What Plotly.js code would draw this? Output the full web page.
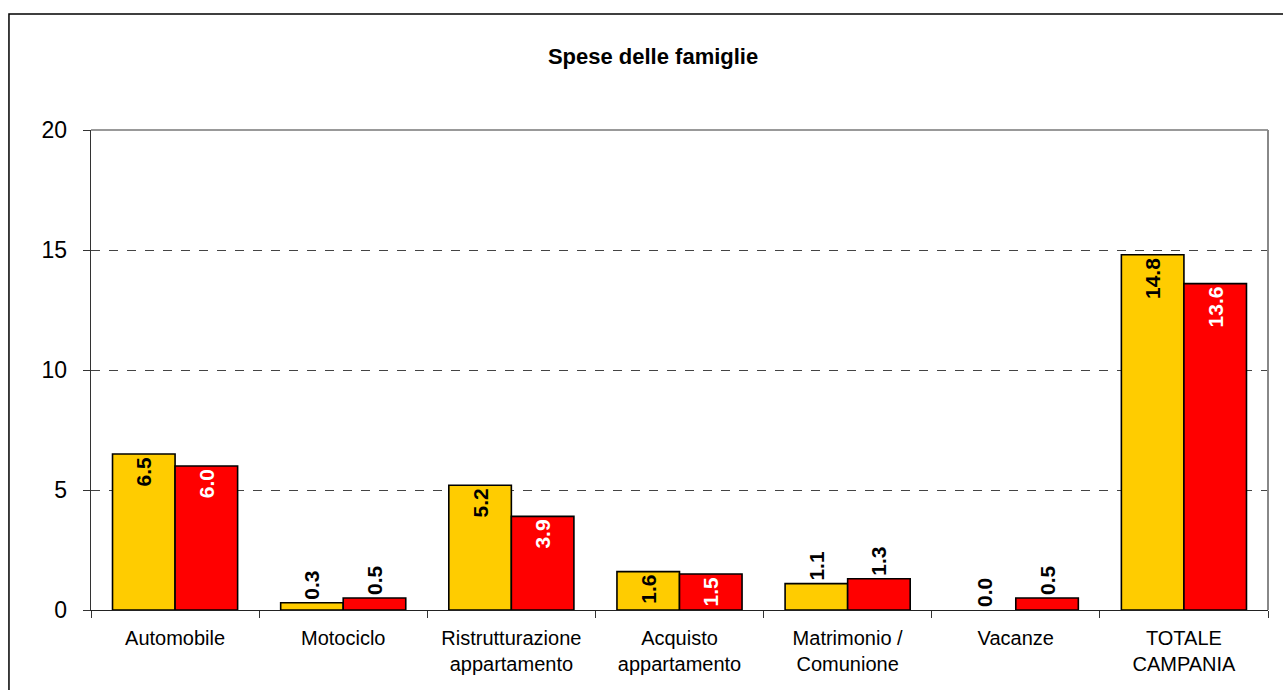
<!DOCTYPE html>
<html>
<head>
<meta charset="utf-8">
<script src="https://cdn.plot.ly/plotly-3.0.1.min.js"></script>
<style>html,body{margin:0;padding:0;background:#fff;}#chart{width:1283px;height:690px;}</style>
</head>
<body>
<div id="chart"></div>
<script>
const categories = ["Automobile", "Motociclo", "Ristrutturazione<br>appartamento", "Acquisto<br>appartamento", "Matrimonio /<br>Comunione", "Vacanze", "TOTALE<br>CAMPANIA"];
const seriesYellow = [6.5, 0.3, 5.2, 1.6, 1.1, 0.0, 14.8];
const seriesRed = [6.0, 0.5, 3.9, 1.5, 1.3, 0.5, 13.6];
const yTicks = [0, 5, 10, 15, 20];

const FONT = "Arial, 'Liberation Sans', sans-serif";
function positions(vals) { return vals.map(v => v >= 1.5 ? 'inside' : 'outside'); }
function outlines(vals) { return vals.map(v => v > 0 ? 1.6 : 0); }
const LBL = 21;

const common = {
  type: 'bar',
  x: categories,
  texttemplate: '%{y:.1f}',
  textangle: -90,
  insidetextanchor: 'end',
  constraintext: 'none',
  cliponaxis: false,
  hoverinfo: 'skip',
  showlegend: false
};

const traces = [
  Object.assign({}, common, {
    name: 'A', y: seriesYellow,
    textposition: positions(seriesYellow),
    marker: {color: '#FFCC00', line: {color: '#000', width: outlines(seriesYellow)}},
    textfont: {family: FONT, size: LBL, color: '#000', weight: 'bold'},
    insidetextfont: {family: FONT, size: LBL, color: '#000', weight: 'bold'},
    outsidetextfont: {family: FONT, size: LBL, color: '#000', weight: 'bold'}
  }),
  Object.assign({}, common, {
    name: 'B', y: seriesRed,
    textposition: positions(seriesRed),
    marker: {color: '#FF0000', line: {color: '#000', width: outlines(seriesRed)}},
    textfont: {family: FONT, size: LBL, color: '#000', weight: 'bold'},
    insidetextfont: {family: FONT, size: LBL, color: '#fff', weight: 'bold'},
    outsidetextfont: {family: FONT, size: LBL, color: '#000', weight: 'bold'}
  })
];

const layout = {
  width: 1283, height: 690,
  margin: {l: 91, r: 15, t: 130, b: 80, autoexpand: false},
  paper_bgcolor: '#fff', plot_bgcolor: '#fff',
  font: {family: FONT, color: '#000'},
  barmode: 'group', bargap: 0.256, bargroupgap: 0,
  title: {text: '<b>Spese delle famiglie</b>', x: 0.509, xref: 'container', xanchor: 'center',
          y: 0.919, yref: 'container', yanchor: 'middle', font: {family: FONT, size: 22, color: '#000'}},
  xaxis: {
    type: 'category', automargin: false,
    showline: true, linecolor: '#222', linewidth: 1.3,
    ticks: 'outside', tickson: 'boundaries', ticklen: 7, tickcolor: '#333', tickwidth: 1,
    ticklabelstandoff: 10,
    tickfont: {family: FONT, size: 20, color: '#000'},
    showgrid: false, zeroline: false, fixedrange: true
  },
  yaxis: {
    range: [0, 20], automargin: false,
    tickvals: yTicks, ticktext: yTicks.map(String),
    showline: true, linecolor: '#333', linewidth: 1.3,
    ticks: 'outside', ticklen: 7, tickcolor: '#333', ticklabelstandoff: 11,
    tickfont: {family: FONT, size: 23, color: '#000'},
    showgrid: true, gridcolor: '#444', griddash: 'dash', gridwidth: 1,
    zeroline: false, fixedrange: true
  },
  shapes: [
    {type: 'line', xref: 'paper', yref: 'paper', x0: 0, x1: 1, y0: 1, y1: 1, line: {color: '#999', width: 2}, layer: 'above'},
    {type: 'line', xref: 'paper', yref: 'paper', x0: 1, x1: 1, y0: 0, y1: 1, line: {color: '#888', width: 2}, layer: 'above'},
    {type: 'rect', xref: 'paper', yref: 'paper', x0: -0.0697, x1: 1.1, y0: -0.3, y1: 1.2417, line: {color: '#000', width: 1.5}, layer: 'above'}
  ]
};

Plotly.newPlot('chart', traces, layout, {displayModeBar: false, staticPlot: true});
</script>
</body>
</html>
